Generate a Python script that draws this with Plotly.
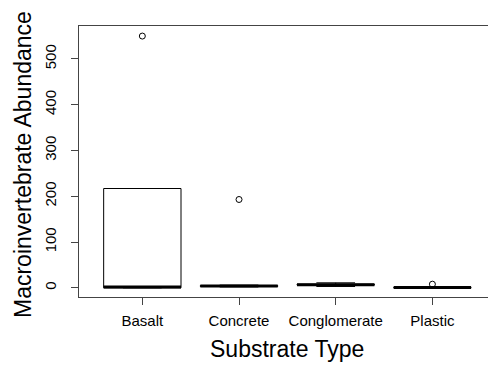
import plotly.graph_objects as go

categories = ["Basalt", "Concrete", "Conglomerate", "Plastic"]
lower_whisker = [0, 2, 3, 0]
q1_vals = [0, 3, 6, 0]
median_vals = [2, 4, 7, 0.5]
q3_vals = [217, 5, 8, 1]
upper_whisker = [217, 6, 11, 2]
outlier_groups = ["Basalt", "Concrete", "Plastic"]
outlier_vals = [550, 193, 8]
y_tickvals = [0, 100, 200, 300, 400, 500]

FONT = "Liberation Sans, Arial, sans-serif"
BOXW = 0.8
positions = list(range(1, len(categories) + 1))

fig = go.Figure()
for i, cat in enumerate(categories):
    fig.add_trace(go.Box(
        x=[positions[i]], q1=[q1_vals[i]], median=[median_vals[i]], q3=[q3_vals[i]],
        lowerfence=[lower_whisker[i]], upperfence=[upper_whisker[i]],
        width=BOXW, whiskerwidth=0.5, boxpoints=False,
        line=dict(color="black", width=1), fillcolor="white",
        showlegend=False, hoverinfo="skip"))
    fig.add_trace(go.Scatter(
        x=[positions[i] - BOXW / 2, positions[i] + BOXW / 2],
        y=[median_vals[i], median_vals[i]], mode="lines",
        line=dict(color="black", width=3), showlegend=False, hoverinfo="skip"))

ox = [positions[categories.index(g)] for g in outlier_groups]
fig.add_trace(go.Scatter(
    x=ox, y=outlier_vals, mode="markers",
    marker=dict(symbol="circle-open", size=6, color="black", line=dict(width=1)),
    showlegend=False, hoverinfo="skip"))

axis_col = "#444444"
fig.update_layout(
    width=488, height=366,
    margin=dict(l=79, r=0, t=26, b=69),
    paper_bgcolor="white", plot_bgcolor="white",
    boxmode="overlay",
    font=dict(family=FONT, color="black"),
    xaxis=dict(
        range=[0.345, 4.575], tickmode="array", tickvals=positions, ticktext=categories,
        showline=True, mirror=True, linecolor=axis_col, linewidth=1,
        ticks="outside", ticklen=7, tickcolor=axis_col, tickwidth=1,
        ticklabelstandoff=3,
        showgrid=False, zeroline=False, tickfont=dict(size=15, family=FONT, color="black")),
    yaxis=dict(
        range=[-20, 572], tickmode="array", tickvals=y_tickvals,
        showline=True, mirror=False, linecolor=axis_col, linewidth=1,
        ticks="outside", ticklen=7, tickcolor=axis_col, tickwidth=1,
        ticklabelstandoff=9,
        tickangle=-90, showgrid=False, zeroline=False,
        tickfont=dict(size=15, family=FONT, color="black")),
    annotations=[
        dict(text="Substrate Type", xref="paper", yref="paper", x=(287 - 79) / 409,
             y=-(349 - 297) / 271, xanchor="center", yanchor="middle", showarrow=False,
             font=dict(size=23, family=FONT, color="black")),
        dict(text="Macroinvertebrate Abundance", xref="paper", yref="paper",
             x=-(79 - 23) / 409, y=(297 - 165) / 271, xanchor="center", yanchor="middle",
             textangle=-90, showarrow=False,
             font=dict(size=23, family=FONT, color="black")),
    ],
)

fig.write_html("out.html")
